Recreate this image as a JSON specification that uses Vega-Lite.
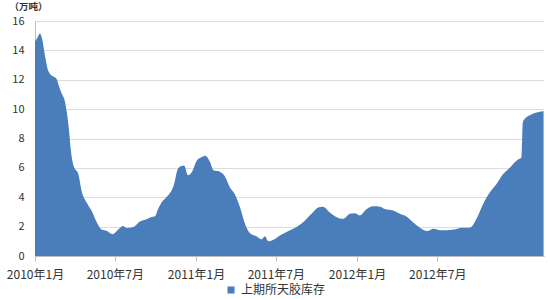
{
  "$schema": "https://vega.github.io/schema/vega-lite/v6.json",
  "width": 509,
  "height": 235,
  "autosize": {"type": "none"},
  "padding": {"left": 35, "top": 21, "right": 6, "bottom": 44},
  "background": "#ffffff",
  "config": {
    "view": {"stroke": null},
    "font": "Noto Sans CJK SC"
  },
  "data": {
    "values": [
      {"date": "2010-01-01", "v": 14.6},
      {"date": "2010-01-07", "v": 14.9},
      {"date": "2010-01-12", "v": 15.15},
      {"date": "2010-01-17", "v": 14.8},
      {"date": "2010-01-24", "v": 13.6},
      {"date": "2010-01-29", "v": 12.8},
      {"date": "2010-02-04", "v": 12.4},
      {"date": "2010-02-10", "v": 12.25},
      {"date": "2010-02-19", "v": 12.05},
      {"date": "2010-02-24", "v": 11.6},
      {"date": "2010-03-02", "v": 11.1},
      {"date": "2010-03-10", "v": 10.5},
      {"date": "2010-03-14", "v": 9.8},
      {"date": "2010-03-19", "v": 8.6},
      {"date": "2010-03-22", "v": 7.6},
      {"date": "2010-03-25", "v": 6.8},
      {"date": "2010-03-30", "v": 6.1},
      {"date": "2010-04-09", "v": 5.6},
      {"date": "2010-04-17", "v": 4.4},
      {"date": "2010-04-28", "v": 3.65},
      {"date": "2010-05-10", "v": 3.05},
      {"date": "2010-05-21", "v": 2.3},
      {"date": "2010-06-01", "v": 1.8},
      {"date": "2010-06-13", "v": 1.7},
      {"date": "2010-06-26", "v": 1.48},
      {"date": "2010-07-07", "v": 1.75},
      {"date": "2010-07-19", "v": 2.05},
      {"date": "2010-07-28", "v": 1.9},
      {"date": "2010-08-12", "v": 1.97},
      {"date": "2010-08-27", "v": 2.35},
      {"date": "2010-09-11", "v": 2.5},
      {"date": "2010-09-22", "v": 2.65},
      {"date": "2010-09-30", "v": 2.7},
      {"date": "2010-10-07", "v": 3.2},
      {"date": "2010-10-15", "v": 3.65},
      {"date": "2010-10-26", "v": 4.0},
      {"date": "2010-11-11", "v": 4.77},
      {"date": "2010-11-22", "v": 6.0},
      {"date": "2010-12-05", "v": 6.16},
      {"date": "2010-12-14", "v": 5.5},
      {"date": "2010-12-23", "v": 5.74},
      {"date": "2011-01-02", "v": 6.45},
      {"date": "2011-01-13", "v": 6.72},
      {"date": "2011-01-22", "v": 6.83},
      {"date": "2011-02-01", "v": 6.45},
      {"date": "2011-02-10", "v": 5.83},
      {"date": "2011-02-24", "v": 5.74},
      {"date": "2011-03-08", "v": 5.4},
      {"date": "2011-03-19", "v": 4.66},
      {"date": "2011-03-30", "v": 4.2},
      {"date": "2011-04-11", "v": 3.3},
      {"date": "2011-04-22", "v": 2.2},
      {"date": "2011-05-03", "v": 1.57},
      {"date": "2011-05-18", "v": 1.35},
      {"date": "2011-05-30", "v": 1.14},
      {"date": "2011-06-06", "v": 1.34},
      {"date": "2011-06-14", "v": 1.0},
      {"date": "2011-06-22", "v": 1.05},
      {"date": "2011-07-11", "v": 1.41},
      {"date": "2011-08-02", "v": 1.75},
      {"date": "2011-08-17", "v": 1.97},
      {"date": "2011-09-01", "v": 2.3},
      {"date": "2011-09-20", "v": 2.87},
      {"date": "2011-10-05", "v": 3.3},
      {"date": "2011-10-16", "v": 3.36},
      {"date": "2011-10-31", "v": 2.98},
      {"date": "2011-11-16", "v": 2.64},
      {"date": "2011-12-01", "v": 2.53},
      {"date": "2011-12-16", "v": 2.87},
      {"date": "2011-12-27", "v": 2.91},
      {"date": "2012-01-07", "v": 2.76},
      {"date": "2012-01-23", "v": 3.2},
      {"date": "2012-02-07", "v": 3.38},
      {"date": "2012-02-22", "v": 3.36},
      {"date": "2012-03-04", "v": 3.2},
      {"date": "2012-03-23", "v": 3.09},
      {"date": "2012-04-07", "v": 2.87},
      {"date": "2012-04-22", "v": 2.69},
      {"date": "2012-05-07", "v": 2.3},
      {"date": "2012-05-23", "v": 1.93},
      {"date": "2012-06-08", "v": 1.7},
      {"date": "2012-06-23", "v": 1.86},
      {"date": "2012-07-08", "v": 1.75},
      {"date": "2012-07-23", "v": 1.75},
      {"date": "2012-08-07", "v": 1.8},
      {"date": "2012-08-26", "v": 1.93},
      {"date": "2012-09-13", "v": 1.93},
      {"date": "2012-09-28", "v": 2.53},
      {"date": "2012-10-13", "v": 3.54},
      {"date": "2012-10-28", "v": 4.32},
      {"date": "2012-11-12", "v": 4.89},
      {"date": "2012-11-27", "v": 5.56},
      {"date": "2012-12-12", "v": 6.0},
      {"date": "2012-12-31", "v": 6.57},
      {"date": "2013-01-08", "v": 6.7},
      {"date": "2013-01-11", "v": 9.1},
      {"date": "2013-01-16", "v": 9.36},
      {"date": "2013-01-27", "v": 9.59},
      {"date": "2013-02-11", "v": 9.77},
      {"date": "2013-02-27", "v": 9.88}
    ]
  },
  "transform": [{"calculate": "'上期所天胶库存'", "as": "series"}],
  "mark": {"type": "area", "interpolate": "monotone", "opacity": 1},
  "encoding": {
    "x": {
      "field": "date",
      "type": "temporal",
      "scale": {"type": "utc", "domain": [{"year": 2010, "month": 1, "date": 1, "utc": true}, {"year": 2013, "month": 2, "date": 28, "utc": true}]},
      "axis": {
        "title": null,
        "grid": false,
        "values": [
          {"year": 2010, "month": 1, "date": 1, "utc": true},
          {"year": 2010, "month": 7, "date": 1, "utc": true},
          {"year": 2011, "month": 1, "date": 1, "utc": true},
          {"year": 2011, "month": 7, "date": 1, "utc": true},
          {"year": 2012, "month": 1, "date": 1, "utc": true},
          {"year": 2012, "month": 7, "date": 1, "utc": true}
        ],
        "labelExpr": "utcFormat(datum.value, '%Y年%-m月')",
        "labelFontSize": 12,
        "labelColor": "#333333",
        "labelPadding": 8,
        "labelFlush": false,
        "domainColor": "#bfbfbf",
        "tickColor": "#bfbfbf",
        "tickSize": 5
      }
    },
    "y": {
      "field": "v",
      "type": "quantitative",
      "scale": {"domain": [0, 16], "nice": false},
      "axis": {
        "title": "（万吨）",
        "titleAngle": 0,
        "titleAlign": "left",
        "titleBaseline": "alphabetic",
        "titleX": -26,
        "titleY": -12,
        "titleFontSize": 9.5,
        "titleFontWeight": "bold",
        "titleColor": "#333333",
        "values": [0, 2, 4, 6, 8, 10, 12, 14, 16],
        "labelFontSize": 11,
        "labelColor": "#333333",
        "labelPadding": 11,
        "labelOverlap": false,
        "labelBaseline": "middle",
        "ticks": false,
        "domainColor": "#bfbfbf",
        "gridColor": "#dcdcdc"
      }
    },
    "color": {
      "field": "series",
      "type": "nominal",
      "scale": {"range": ["#4a7ebb"]},
      "legend": {
        "title": null,
        "orient": "none",
        "legendX": 190,
        "legendY": 263,
        "symbolType": "square",
        "symbolSize": 50,
        "labelFontSize": 12,
        "labelColor": "#333333"
      }
    }
  }
}
